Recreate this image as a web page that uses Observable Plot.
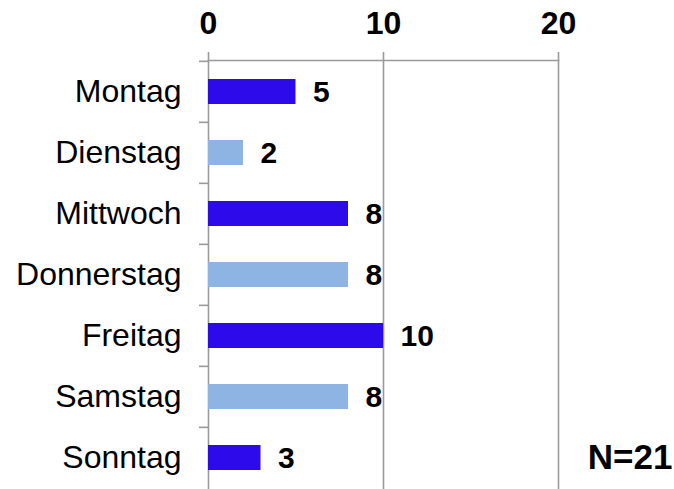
<!DOCTYPE html>
<html><head><meta charset="utf-8">
<script src="https://cdn.jsdelivr.net/npm/d3@7"></script>
<script src="https://cdn.jsdelivr.net/npm/@observablehq/plot@0.6"></script>
<style>body{margin:0;background:#fff;} svg{display:block}</style>
</head><body><div id="chart"></div>
<script>
const days = ["Montag", "Dienstag", "Mittwoch", "Donnerstag", "Freitag", "Samstag", "Sonntag"];
const counts = [5, 2, 8, 8, 10, 8, 3];
const xTicks = [0, 10, 20];
const note = ["N=21"];

const data = days.map((d, i) => ({day: d, count: counts[i], group: i % 2 === 0 ? "odd" : "even"}));

const W = 674, H = 489, mt = 60, mb = 0, ml = 208, mr = 116;
const bw = (H - mt - mb) / days.length;
const grey = "#9a9a9a";

const chart = Plot.plot({
  width: W, height: H,
  marginTop: mt, marginBottom: mb, marginLeft: ml, marginRight: mr,
  style: {fontFamily: "'Liberation Sans', Arial, sans-serif", color: "#000", background: "#fff"},
  x: {domain: [0, 20]},
  y: {domain: days, padding: 0},
  color: {domain: ["odd", "even"], range: ["#2c0aea", "#8eb4e3"]},
  marks: [
    Plot.ruleX(xTicks, {stroke: grey, strokeWidth: 1.6}),
    Plot.frame({anchor: "top", stroke: grey, strokeWidth: 1.6}),
    Plot.axisX({anchor: "top", ticks: xTicks, tickSize: 9, tickPadding: 18, stroke: grey, strokeWidth: 1.6,
      fontSize: 32, fontWeight: "bold", fill: "#000", label: null}),
    Plot.axisY({anchor: "left", tickSize: 0, tickPadding: 27, fontSize: 32, fill: "#000", label: null}),
    Plot.axisY({anchor: "left", tickSize: 9, tickFormat: () => "", dy: -bw / 2, stroke: grey, strokeWidth: 1.6, label: null}),
    Plot.barX(data, {x: "count", y: "day", fill: "group", insetTop: 18, insetBottom: 18}),
    Plot.text(data, {x: "count", y: "day", text: d => String(d.count), textAnchor: "start", dx: 17,
      fontSize: 30, fontWeight: "bold", fill: "#000"}),
    Plot.text(note, {text: d => d, frameAnchor: "bottom-right", textAnchor: "end", lineAnchor: "bottom",
      dx: 114, dy: -21, fontSize: 35, fontWeight: "bold", fill: "#000"})
  ]
});
document.getElementById("chart").appendChild(chart);
</script>
</body></html>
